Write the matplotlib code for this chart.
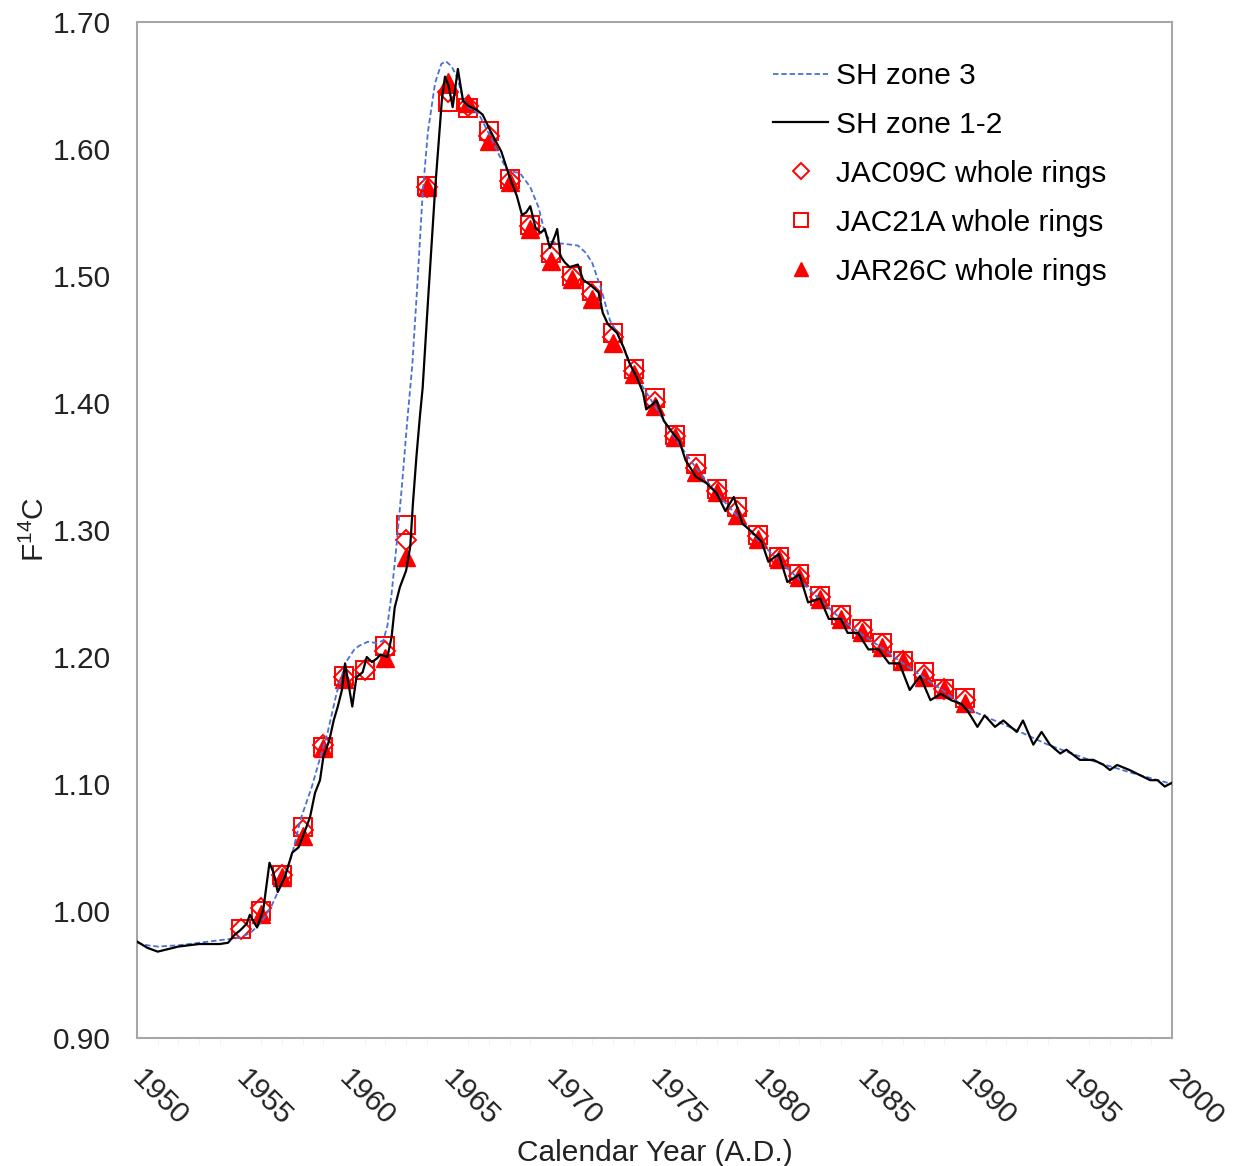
import matplotlib
matplotlib.use('Agg')
import matplotlib.pyplot as plt
import matplotlib.transforms as mtransforms
import numpy as np

# SH zone 3 (smooth curve)
z3_year = [1950.0, 1950.5, 1951.0, 1952.0, 1953.0, 1954.0, 1955.0, 1955.5, 1956.0, 1956.5,
           1957.0, 1957.5, 1957.9, 1958.45, 1958.8, 1959.2, 1959.65, 1960.1, 1960.5, 1960.75,
           1961.15, 1961.6, 1961.9, 1962.1, 1962.3, 1962.55, 1962.8, 1963.05, 1963.3, 1963.55,
           1963.8, 1964.05, 1964.4, 1964.7, 1964.93, 1965.2, 1965.45, 1965.75, 1966.0, 1966.5,
           1967.0, 1967.5, 1967.9, 1968.5, 1969.0, 1969.4, 1969.7, 1970.0, 1970.3, 1970.8,
           1971.3, 1971.7, 1972.0, 1972.4, 1972.85, 1973.2, 1973.6, 1974.0, 1975.0, 1976.0,
           1977.0, 1978.0, 1979.0, 1980.0, 1981.0, 1982.0, 1983.0, 1984.0, 1985.0, 1986.0,
           1987.0, 1988.0, 1989.0, 1990.0, 1992.0, 1994.0, 1996.0, 1998.0, 2000.0]
z3_f14c = [0.975, 0.973, 0.972, 0.973, 0.975, 0.977, 0.979, 0.983, 0.991, 1.004,
           1.022, 1.045, 1.072, 1.098, 1.118, 1.140, 1.172, 1.196, 1.206, 1.209,
           1.212, 1.211, 1.213, 1.225, 1.250, 1.290, 1.335, 1.385, 1.430, 1.495,
           1.565, 1.613, 1.652, 1.667, 1.669, 1.665, 1.657, 1.640, 1.633, 1.628,
           1.612, 1.595, 1.583, 1.581, 1.570, 1.554, 1.534, 1.527, 1.526, 1.525,
           1.524, 1.518, 1.510, 1.491, 1.465, 1.455, 1.440, 1.424, 1.398, 1.372,
           1.349, 1.329, 1.311, 1.292, 1.276, 1.261, 1.245, 1.230, 1.218, 1.207,
           1.195, 1.184, 1.173, 1.160, 1.146, 1.131, 1.119, 1.109, 1.100]

# SH zone 1-2 (with seasonal wiggles)
z12_year = [1950.0, 1950.5, 1951.0, 1951.5, 1952.0, 1952.5, 1953.0, 1953.5, 1954.0, 1954.4,
            1954.7, 1955.0, 1955.3, 1955.45, 1955.8, 1956.1, 1956.4, 1956.6, 1956.8, 1957.15,
            1957.5, 1957.8, 1958.0, 1958.36, 1958.6, 1958.84, 1959.0, 1959.3, 1959.5, 1959.7,
            1959.9, 1960.05, 1960.4, 1960.6, 1960.9, 1961.1, 1961.35, 1961.6, 1961.75, 1962.1,
            1962.3, 1962.45, 1962.7, 1963.0, 1963.2, 1963.33, 1963.5, 1963.67, 1963.8, 1964.06,
            1964.4, 1964.73, 1964.88, 1965.05, 1965.25, 1965.5, 1965.75, 1966.0, 1966.4, 1966.7,
            1967.05, 1967.4, 1967.6, 1967.8, 1968.0, 1968.35, 1968.6, 1968.8, 1969.0, 1969.25,
            1969.5, 1969.7, 1969.95, 1970.2, 1970.3, 1970.45, 1970.65, 1970.9, 1971.3, 1971.55,
            1971.9, 1972.3, 1972.5, 1972.75, 1973.2, 1973.5, 1973.8, 1974.15, 1974.45, 1974.6,
            1974.9, 1975.1, 1975.45, 1975.9, 1976.2, 1976.5, 1977.0, 1977.5, 1978.0, 1978.42,
            1978.83, 1979.25, 1979.67, 1980.17, 1980.5, 1981.0, 1981.42, 1982.0, 1982.42, 1983.0,
            1983.42, 1984.0, 1984.33, 1984.83, 1985.33, 1985.83, 1986.33, 1986.83, 1987.33, 1987.83,
            1988.33, 1988.83, 1989.33, 1989.83, 1990.1, 1990.3, 1990.6, 1990.95, 1991.45, 1991.85,
            1992.5, 1992.8, 1993.3, 1993.7, 1994.1, 1994.6, 1994.9, 1995.55, 1996.2, 1996.7,
            1997.0, 1997.35, 1997.95, 1998.45, 1998.95, 1999.3, 1999.65, 2000.0]
z12_f14c = [0.976, 0.971, 0.968, 0.970, 0.972, 0.973, 0.974, 0.974, 0.974, 0.975,
            0.981, 0.985, 0.990, 0.997, 0.987, 1.001, 1.038, 1.030, 1.015, 1.027,
            1.046, 1.050, 1.058, 1.074, 1.093, 1.103, 1.121, 1.135, 1.150, 1.161,
            1.174, 1.195, 1.161, 1.184, 1.188, 1.200, 1.196, 1.199, 1.202, 1.200,
            1.216, 1.239, 1.255, 1.268, 1.287, 1.321, 1.358, 1.390, 1.412, 1.481,
            1.568, 1.639, 1.657, 1.650, 1.633, 1.663, 1.638, 1.634, 1.631, 1.627,
            1.615, 1.604, 1.598, 1.588, 1.578, 1.563, 1.548, 1.550, 1.555, 1.538,
            1.534, 1.537, 1.522, 1.532, 1.537, 1.516, 1.511, 1.507, 1.509, 1.497,
            1.493, 1.487, 1.471, 1.462, 1.455, 1.444, 1.431, 1.420, 1.408, 1.395,
            1.399, 1.402, 1.386, 1.376, 1.370, 1.355, 1.342, 1.337, 1.329, 1.315,
            1.326, 1.305, 1.299, 1.291, 1.275, 1.281, 1.259, 1.265, 1.243, 1.246,
            1.230, 1.230, 1.219, 1.219, 1.206, 1.206, 1.195, 1.195, 1.174, 1.185,
            1.166, 1.171, 1.166, 1.163, 1.158, 1.153, 1.145, 1.154, 1.145, 1.150,
            1.141, 1.150, 1.131, 1.141, 1.131, 1.124, 1.127, 1.119, 1.119, 1.115,
            1.111, 1.115, 1.111, 1.107, 1.103, 1.103, 1.098, 1.101]

# tree ring samples, one value per calendar year (nan = no sample)
ring_years = list(range(1955, 1991))
jac09c = [0.986, 1.002, 1.028, 1.064, 1.131, 1.184, 1.190, 1.205, 1.292, 1.570,
          1.645, 1.634, 1.610, 1.575, 1.539, 1.516, 1.499, 1.486, 1.452, 1.425,
          1.401, 1.374, 1.349, 1.331, 1.315, 1.295, 1.278, 1.264, 1.247, 1.232,
          1.221, 1.210, 1.197, 1.186, 1.175, 1.166]
jac21a = [0.986, 1.000, 1.028, 1.066, 1.129, 1.185, 1.190, 1.209, 1.304, 1.571,
          1.637, 1.632, 1.614, 1.576, 1.540, 1.518, 1.500, 1.488, 1.455, 1.427,
          1.404, 1.375, 1.352, 1.332, 1.318, 1.296, 1.279, 1.265, 1.248, 1.233,
          1.222, 1.211, 1.197, 1.188, 1.175, 1.168]
jar26c = [np.nan, 0.998, 1.027, 1.059, 1.128, 1.183, np.nan, 1.199, 1.279, 1.570,
          1.653, 1.636, 1.606, 1.574, 1.537, 1.512, 1.498, 1.482, 1.447, 1.423,
          1.398, 1.373, 1.346, 1.330, 1.312, 1.293, 1.277, 1.263, 1.246, 1.230,
          1.220, 1.208, 1.197, 1.184, 1.175, 1.164]

plt.rcParams['font.family'] = ['Liberation Sans', 'DejaVu Sans']
plt.rcParams['mathtext.default'] = 'regular'
fs = 21.5

fig = plt.figure(figsize=(12.34, 11.66), dpi=100)
ax = fig.add_axes([137 / 1234, 1 - 1038 / 1166, 1035 / 1234, 1016 / 1166])

red = '#ff0000'
ax.plot(z3_year, z3_f14c, color='#4a70d8', lw=1.3, ls=(0, (3, 1.6)), label='SH zone 3', zorder=3)
ax.plot(z12_year, z12_f14c, color='black', lw=1.6, label='SH zone 1-2', zorder=4)
ax.plot(ring_years, jac09c, ls='none', marker='D', ms=10, mfc='none', mec=red, mew=1.4,
        label='JAC09C whole rings', zorder=2)
ax.plot(ring_years, jac21a, ls='none', marker='s', ms=12.5, mfc='none', mec=red, mew=1.4,
        label='JAC21A whole rings', zorder=2)
ax.plot(ring_years, jar26c, ls='none', marker='^', ms=12.5, mfc=red, mec=red,
        label='JAR26C whole rings', zorder=2)

ax.set_xlim(1950, 2000)
ax.set_ylim(0.90, 1.70)
ax.set_xticks(np.arange(1950, 2001, 5))
ax.set_xticks(np.arange(1950, 2001, 1), minor=True)
ax.set_yticks(np.arange(0.90, 1.701, 0.10))
ax.set_yticklabels(['%.2f' % v for v in np.arange(0.90, 1.701, 0.10)])
ax.tick_params(axis='both', which='major', length=0, pad=19, labelsize=fs, colors='#222222')
ax.tick_params(axis='x', which='minor', length=5, color='#f0f0f0')
shift = mtransforms.ScaledTranslation(-10 / 100, 0, fig.dpi_scale_trans)
for lab in ax.get_xticklabels():
    lab.set_rotation(-45)
    lab.set_ha('left')
    lab.set_transform(lab.get_transform() + shift)

for sp in ax.spines.values():
    sp.set_color('#a6a6a6')
    sp.set_linewidth(1.5)

ax.set_xlabel('Calendar Year (A.D.)', fontsize=fs, color='#222222', labelpad=6)
ax.set_ylabel('F$^{14}$C', fontsize=fs, color='#222222', labelpad=2)

ax.legend(loc='upper left', bbox_to_anchor=(773 / 1234, 1 - 62 / 1166), bbox_transform=fig.transFigure,
          frameon=False, fontsize=fs, handlelength=1.85, handletextpad=0.25, labelspacing=0.7,
          borderpad=0, borderaxespad=0, markerscale=0.85)

fig.savefig('out.png', dpi=100)
